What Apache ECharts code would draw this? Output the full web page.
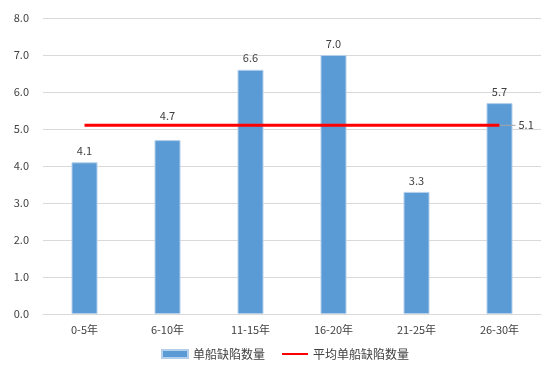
<!DOCTYPE html>
<html>
<head>
<meta charset="utf-8">
<script src="https://cdn.jsdelivr.net/npm/echarts@6/dist/echarts.min.js"></script>
<style>
  html, body { margin: 0; padding: 0; background: #fff; }
  #chart { width: 554px; height: 371px; }
</style>
</head>
<body>
<div id="chart"></div>
<script>
// 船龄分组 & 单船缺陷数量
var categories = ['0-5年', '6-10年', '11-15年', '16-20年', '21-25年', '26-30年'];
var defectCounts = [4.1, 4.7, 6.6, 7.0, 3.3, 5.7];
var averageCount = 5.1;
var avgSeries = categories.map(function() { return averageCount; });

var chart = echarts.init(document.getElementById('chart'));
var FONT = '"Noto Sans CJK SC", "Noto Sans", sans-serif';

// 与平均线重叠的标签向上挪一点
var barData = defectCounts.map(function(v) {
    var item = { value: v };
    if (Math.abs(v - averageCount) < 0.8 && v < averageCount) {
        item.label = { distance: 19 };
    }
    return item;
});

var option = {
    backgroundColor: '#ffffff',
    animation: false,
    textStyle: { fontFamily: FONT },
    grid: { left: 43, right: 13, top: 18, bottom: 57 },
    legend: {
        bottom: 6,
        left: 156,
        itemGap: 16,
        itemWidth: 26,
        itemHeight: 8,
        textStyle: { color: '#404040', fontSize: 12, fontFamily: FONT },
        data: [
            { name: '单船缺陷数量', icon: 'rect' },
            { name: '平均单船缺陷数量', itemStyle: { opacity: 0 } }
        ]
    },
    xAxis: {
        type: 'category',
        data: categories,
        axisLine: { lineStyle: { color: '#d9d9d9', width: 1 } },
        axisTick: { show: false },
        axisLabel: { color: '#404040', fontSize: 11, margin: 10 }
    },
    yAxis: {
        type: 'value',
        min: 0,
        max: 8,
        interval: 1,
        axisLine: { show: false },
        axisTick: { show: false },
        axisLabel: {
            color: '#404040',
            fontSize: 11,
            margin: 14,
            formatter: function(v) { return v.toFixed(1); }
        },
        splitLine: { lineStyle: { color: '#d9d9d9', width: 1 } }
    },
    series: [{
        name: '单船缺陷数量',
        type: 'bar',
        data: barData,
        barWidth: 26,
        itemStyle: { color: '#5B9BD5', borderColor: '#b4cfec', borderWidth: 1 },
        label: {
            show: true,
            position: 'top',
            distance: 6,
            color: '#404040',
            fontSize: 11,
            formatter: function(p) { return p.value.toFixed(1); }
        }
    }, {
        name: '平均单船缺陷数量',
        type: 'line',
        data: avgSeries,
        symbol: 'none',
        lineStyle: { color: '#FF0000', width: 3 },
        itemStyle: { color: '#FF0000' },
        z: 3,
        label: { show: false },
        endLabel: {
            show: true,
            distance: 0,
            formatter: function(p) { return '{lead|}{v|' + p.value.toFixed(1) + '}'; },
            rich: {
                lead: { width: 16, height: 1, backgroundColor: '#a6a6a6' },
                v: { color: '#404040', fontSize: 11, padding: [0, 0, 0, 3] }
            }
        }
    }]
};

chart.setOption(option);
</script>
</body>
</html>
